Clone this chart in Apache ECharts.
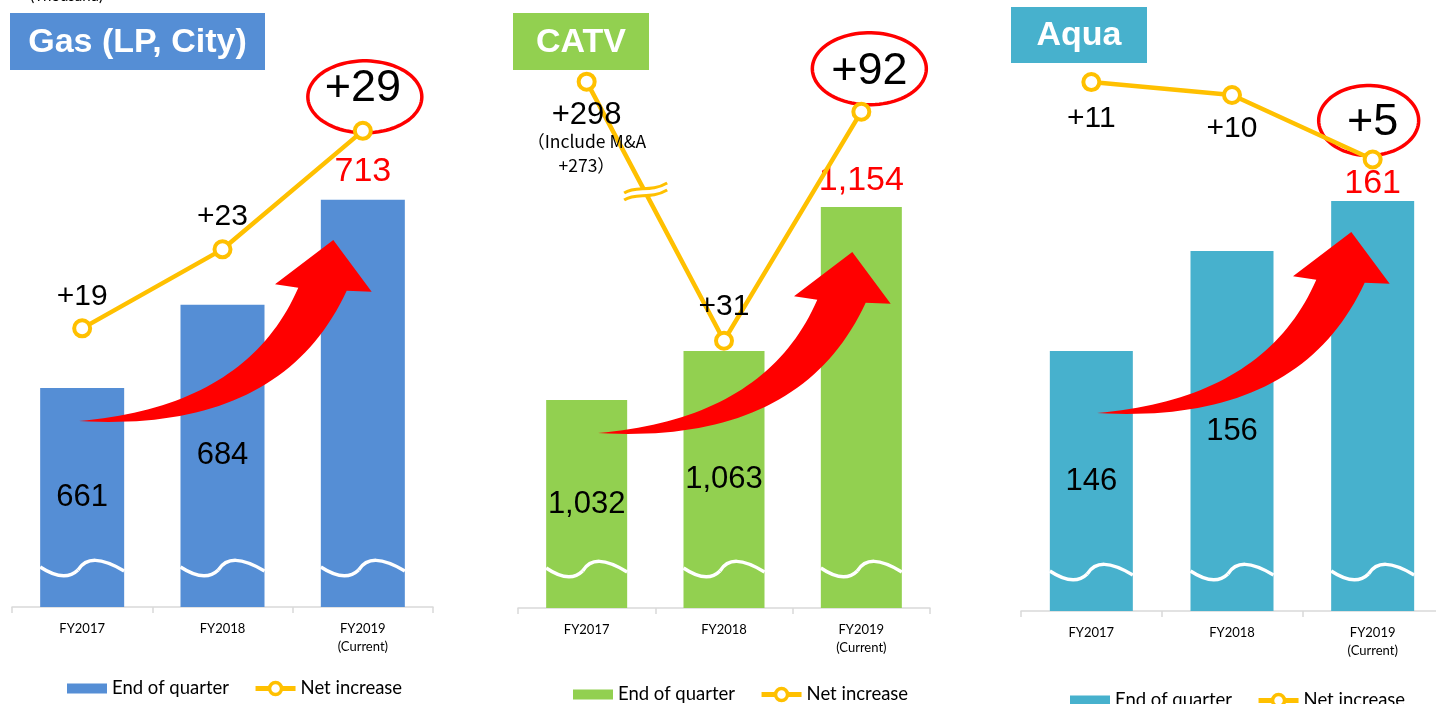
<!DOCTYPE html>
<html><head><meta charset="utf-8">
<script src="https://cdn.jsdelivr.net/npm/echarts@6/dist/echarts.min.js"></script>
<style>html,body{margin:0;padding:0;background:#fff}#c{width:1436px;height:704px}</style>
</head><body><div id="c"></div>
<script>
// ---------------- data ----------------
const categories = ['FY2017', 'FY2018', 'FY2019\n(Current)'];
const gasEnd = [661, 684, 713];
const gasNet = [19, 23, 29];
const catvEnd = [1032, 1063, 1154];
const catvNet = [298, 31, 92];
const catvMA = 273;            // of which M&A in FY2017
const aquaEnd = [146, 156, 161];
const aquaNet = [11, 10, 5];
const panelTitles = ['Gas (LP, City)', 'CATV', 'Aqua'];
const legendNames = ['End of quarter', 'Net increase'];
const unitLabel = '(Thousand)';
const catvBreakCap = 100;      // CATV line uses a broken axis above this value

// ---------------- layout / style ----------------
const FONT_NUM = '"Liberation Sans", Arial, sans-serif';
const FONT_UI = 'Lato, "Noto Sans", sans-serif';
const LINE_COLOR = '#FFC000';
const RED = '#FF0000';

const panels = [
  { end: gasEnd, net: gasNet, color: '#558ED5',
    grid: { left: 12, width: 421, top: 40, bottom: 97 }, barWidth: 84,
    barMin: 600.5, barMax: 757.1, lineMin: 4.89, lineMax: 33.6,
    box: [10, 13, 255, 57], arrow: [79, 421], topDist: 11,
    lineLab: [['top', 7], ['top', 8], ['top', 10]],
    ell: [2, -34, 57, 36], lastOff: [0, 0],
    legend: { left: 67, top: 679 } },
  { end: catvEnd, net: catvNet, color: '#92D050',
    grid: { left: 518, width: 412, top: 40, bottom: 96 }, barWidth: 81,
    barMin: 900.5, barMax: 1259.5, lineMin: -40.2, lineMax: 111.1,
    box: [513, 13, 136, 57], arrow: [598, 433], topDist: 9,
    lineLab: [['bottom', 10], ['top', 9], ['top', 8]],
    ell: [8, -43, 57, 36], lastOff: [8, 0],
    legend: { left: 573, top: 685 } },
  { end: aquaEnd, net: aquaNet, color: '#47B1CD',
    grid: { left: 1021, width: 422, top: 40, bottom: 93 }, barWidth: 83,
    barMin: 120, barMax: 177.1, lineMin: -30, lineMax: 14.26,
    box: [1011, 7, 136, 56], arrow: [1097, 413], topDist: 0,
    lineLab: [['bottom', 12], ['bottom', 9], ['top', 4]],
    ell: [-4, -39, 50, 35], lastOff: [0, 0],
    legend: { left: 1070, top: 691 } }
];

// arrow outline relative to its tail (two quadratic edges + head)
function quad(p0, c, p1, n) {
  const pts = [];
  for (let s = 0; s <= n; s++) {
    const t = s / n, u = 1 - t;
    pts.push([u * u * p0[0] + 2 * u * t * c[0] + t * t * p1[0], u * u * p0[1] + 2 * u * t * c[1] + t * t * p1[1]]);
  }
  return pts;
}
const ARROW_PTS = [].concat(
  quad([0, 0], [167.7, -14.3], [219.3, -133.3], 40),
  [[196, -136.7], [254.3, -181], [292.7, -129.3]],
  quad([267.7, -130.3], [202, 12], [0, 0], 40)
);
function ellipsePts(cx, cy, rx, ry) {
  const pts = [];
  for (let s = 0; s < 90; s++) { const a = s / 90 * Math.PI * 2; pts.push([cx + rx * Math.cos(a), cy + ry * Math.sin(a)]); }
  return pts;
}

const chart = echarts.init(document.getElementById('c'));

const grids = [], xAxes = [], yAxes = [], series = [], legends = [];
panels.forEach((p, i) => {
  grids.push(Object.assign({ outerBoundsMode: 'none', containLabel: false }, p.grid));
  xAxes.push({
    type: 'category', gridIndex: i, data: categories, boundaryGap: true,
    axisLine: { onZero: false, lineStyle: { color: '#D9D9D9', width: 1.5 } },
    axisTick: { show: true, length: 6, lineStyle: { color: '#D9D9D9', width: 1.5 } },
    axisLabel: { margin: 13, fontFamily: FONT_UI, fontSize: 13, color: '#000', lineHeight: 18 }
  });
  yAxes.push({ type: 'value', gridIndex: i, show: false, min: p.barMin, max: p.barMax, splitLine: { show: false } });
  yAxes.push({ type: 'value', gridIndex: i, show: false, min: p.lineMin, max: p.lineMax, splitLine: { show: false } });

  const last = p.end.length - 1;
  series.push({
    name: i + '|' + legendNames[0], type: 'bar', xAxisIndex: i, yAxisIndex: i * 2,
    barWidth: p.barWidth, itemStyle: { color: p.color }, z: 2,
    data: p.end.map((v, k) => ({
      value: v,
      label: k === last
        ? { show: true, position: 'top', distance: p.topDist, color: RED, fontSize: 34, fontFamily: FONT_NUM }
        : { show: true, position: 'inside', color: '#000', fontSize: 31, fontFamily: FONT_NUM }
    })),
    label: { formatter: d => d.value.toLocaleString('en-US') }
  });

  const plot = p.net.map(v => (i === 1 && v > catvBreakCap) ? catvBreakCap : v);
  series.push({
    name: i + '|' + legendNames[1], type: 'line', xAxisIndex: i, yAxisIndex: i * 2 + 1,
    z: 20, symbol: 'circle', symbolSize: 16,
    itemStyle: { color: '#fff', borderColor: LINE_COLOR, borderWidth: 4 },
    lineStyle: { color: LINE_COLOR, width: 4.5 },
    data: plot.map((v, k) => {
      const big = k === last;
      const lab = {
        show: true, position: p.lineLab[k][0], distance: p.lineLab[k][1],
        color: '#000', fontFamily: FONT_NUM, fontSize: big ? 45 : 30,
        offset: big ? p.lastOff : [0, 0],
        formatter: () => '+' + p.net[k]
      };
      if (i === 1 && k === 0) {
        lab.formatter = () => '{a|+' + p.net[k] + '}\n{b|（Include M&A}\n{b|+' + catvMA + '）}';
        lab.rich = {
          a: { fontFamily: FONT_NUM, fontSize: 31, lineHeight: 28, color: '#000' },
          b: { fontFamily: '"Noto Sans CJK JP", "Noto Sans", sans-serif', fontSize: 17.5, lineHeight: 24, color: '#000' }
        };
      }
      return { value: v, label: lab };
    })
  });

  legends.push({
    left: p.legend.left, top: p.legend.top, orient: 'horizontal', padding: 0,
    itemWidth: 40, itemHeight: 15, itemGap: 24,
    data: [
      { name: i + '|' + legendNames[0], icon: 'path://M0,0M0,15M0,2.5L40,2.5L40,12.5L0,12.5Z' },
      { name: i + '|' + legendNames[1], lineStyle: { color: LINE_COLOR, width: 5 },
        itemStyle: { color: '#fff', borderColor: LINE_COLOR, borderWidth: 3.5 } }
    ],
    formatter: n => n.split('|')[1],
    textStyle: { fontFamily: FONT_UI, fontSize: 18.5, color: '#000' },
    selectedMode: false
  });
});

chart.setOption({
  animation: false,
  backgroundColor: '#fff',
  grid: grids, xAxis: xAxes, yAxis: yAxes, series: series, legend: legends
});

// ---------------- decorations positioned through the axes ----------------
const g = [];
g.push({ type: 'text', x: 103, y: -4, z: 50,
  style: { text: unitLabel, font: '15px ' + FONT_UI, fill: '#000', align: 'right', verticalAlign: 'middle' } });

panels.forEach((p, i) => {
  const bs = i * 2, ls = i * 2 + 1;
  g.push({ type: 'rect', z: 40, shape: { x: p.box[0], y: p.box[1], width: p.box[2], height: p.box[3] }, style: { fill: p.color } });
  g.push({ type: 'text', z: 41, x: p.box[0] + p.box[2] / 2, y: p.box[1] + p.box[3] / 2 + 1,
    style: { text: panelTitles[i], fill: '#fff', font: 'bold 34px ' + FONT_NUM, align: 'center', verticalAlign: 'middle' } });

  // white "break" waves near the bar bottoms
  const base = chart.convertToPixel({ seriesIndex: bs }, [0, p.barMin])[1];
  p.end.forEach((v, k) => {
    const c = chart.convertToPixel({ seriesIndex: bs }, [k, v])[0];
    const w = p.barWidth, x0 = c - w / 2, y0 = base - 40;
    g.push({ type: 'bezierCurve', z: 5,
      shape: { x1: x0, y1: y0, cpx1: x0 + 0.2 * w, cpy1: y0 + 11, cpx2: x0 + 0.35 * w, cpy2: y0 + 11, x2: x0 + 0.45 * w, y2: y0 + 3 },
      style: { fill: 'none', stroke: '#fff', lineWidth: 3.5 } });
    g.push({ type: 'bezierCurve', z: 5,
      shape: { x1: x0 + 0.45 * w, y1: y0 + 3, cpx1: x0 + 0.55 * w, cpy1: y0 - 10, cpx2: x0 + 0.72 * w, cpy2: y0 - 10, x2: x0 + w, y2: y0 + 4 },
      style: { fill: 'none', stroke: '#fff', lineWidth: 3.5 } });
  });

  // red growth arrow
  g.push({ type: 'polygon', z: 10,
    shape: { points: ARROW_PTS.map(q => [q[0] + p.arrow[0], q[1] + p.arrow[1]]) }, style: { fill: RED } });

  // red ellipse around the latest net increase
  const plotLast = (i === 1 && p.net[2] > catvBreakCap) ? catvBreakCap : p.net[2];
  const lp = chart.convertToPixel({ seriesIndex: ls }, [2, plotLast]);
  g.push({ type: 'polygon', z: 15,
    shape: { points: ellipsePts(lp[0] + p.ell[0], lp[1] + p.ell[1], p.ell[2], p.ell[3]) },
    style: { fill: 'none', stroke: RED, lineWidth: 3.5 } });

  // axis-break marker on the CATV line
  if (i === 1) {
    const a = chart.convertToPixel({ seriesIndex: ls }, [0, Math.min(p.net[0], catvBreakCap)]);
    const b = chart.convertToPixel({ seriesIndex: ls }, [1, p.net[1]]);
    const t = 0.426;
    const cx = a[0] + t * (b[0] - a[0]), cy = a[1] + t * (b[1] - a[1]);
    const up = { x1: cx - 21, y1: cy + 1, cpx1: cx - 9, cpy1: cy - 7, cpx2: cx + 5, cpy2: cy + 1, x2: cx + 22, y2: cy - 9 };
    const lo = { x1: cx - 21, y1: cy + 8, cpx1: cx - 9, cpy1: cy, cpx2: cx + 5, cpy2: cy + 8, x2: cx + 22, y2: cy - 2 };
    g.push({ type: 'polygon', z: 25,
      shape: { points: [[cx - 21, cy + 1], [cx + 22, cy - 9], [cx + 22, cy - 2], [cx - 21, cy + 8]] }, style: { fill: '#fff' } });
    g.push({ type: 'bezierCurve', z: 26, shape: up, style: { fill: 'none', stroke: LINE_COLOR, lineWidth: 3 } });
    g.push({ type: 'bezierCurve', z: 26, shape: lo, style: { fill: 'none', stroke: LINE_COLOR, lineWidth: 3 } });
  }
});
chart.setOption({ graphic: { elements: g } });
</script></body></html>
